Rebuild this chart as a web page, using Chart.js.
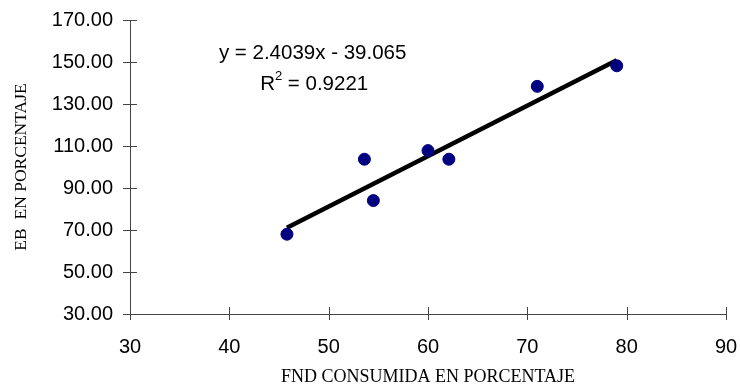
<!DOCTYPE html>
<html>
<head>
<meta charset="utf-8">
<script src="https://cdn.jsdelivr.net/npm/chart.js@4"></script>
<style>
  html, body { margin: 0; padding: 0; background: #fff; }
  #wrap { width: 740px; height: 389px; }
</style>
</head>
<body>
<div id="wrap"><canvas id="chart" width="740" height="389"></canvas></div>
<script>
// FND consumida (x) vs EB (y), both in percent
const fndValues = [45.8, 53.6, 54.5, 60.0, 62.1, 71.0, 79.0];
const ebValues = [68.0, 103.7, 84.0, 107.8, 103.7, 138.4, 148.2];

// trend line shown on the original chart
const slope = 2.4039;
const intercept = -39.065;
const eqText = 'y = 2.4039x - 39.065';
const r2Text = '0.9221';

const xTicks = [30, 40, 50, 60, 70, 80, 90];
const yTicks = [30, 50, 70, 90, 110, 130, 150, 170];

const points = fndValues.map((x, i) => ({ x: x, y: ebValues[i] }));
const xLo = Math.min(...fndValues);
const xHi = Math.max(...fndValues);
const trend = [
    { x: xLo, y: slope * xLo + intercept },
    { x: xHi, y: slope * xHi + intercept }
];

const sans = "'Liberation Sans', Arial, sans-serif";
const serif = "'Liberation Serif', 'Times New Roman', serif";

// tick marks that cross the axis lines + equation label
const extras = {
    id: 'extras',
    afterDraw(c) {
        const ctx = c.ctx;
        const xs = c.scales.x, ys = c.scales.y;
        ctx.save();
        ctx.strokeStyle = '#444';
        ctx.lineWidth = 1;
        const yAxisX = xs.getPixelForValue(30);
        const xAxisY = ys.getPixelForValue(30);
        yTicks.forEach(v => {
            const py = Math.round(ys.getPixelForValue(v)) + 0.5;
            ctx.beginPath();
            ctx.moveTo(yAxisX - 7, py);
            ctx.lineTo(yAxisX + 7, py);
            ctx.stroke();
        });
        xTicks.forEach(v => {
            const px = Math.round(xs.getPixelForValue(v)) + 0.5;
            ctx.beginPath();
            ctx.moveTo(px, xAxisY - 7);
            ctx.lineTo(px, xAxisY + 6);
            ctx.stroke();
        });

        ctx.fillStyle = '#000';
        ctx.font = '20.5px ' + sans;
        ctx.textBaseline = 'middle';
        ctx.textAlign = 'left';
        ctx.fillText(eqText, xs.getPixelForValue(38.95), ys.getPixelForValue(154));
        const rx = xs.getPixelForValue(43.1);
        const ry = ys.getPixelForValue(139.3);
        ctx.fillText('R', rx, ry);
        const rw = ctx.measureText('R').width;
        ctx.font = '13px ' + sans;
        ctx.fillText('2', rx + rw, ry - 8);
        const sw = ctx.measureText('2').width;
        ctx.font = '20.5px ' + sans;
        ctx.fillText(' = ' + r2Text, rx + rw + sw, ry);
        ctx.restore();
    }
};

new Chart(document.getElementById('chart'), {
    type: 'scatter',
    data: {
        datasets: [
            {
                label: 'EB',
                data: points,
                backgroundColor: '#000080',
                borderColor: '#000080',
                pointRadius: 6,
                pointHoverRadius: 6,
                order: 1
            },
            {
                label: 'Tendencia',
                type: 'line',
                data: trend,
                borderColor: '#000',
                borderWidth: 4.5,
                pointRadius: 0,
                fill: false,
                order: 2
            }
        ]
    },
    options: {
        responsive: false,
        animation: false,
        layout: { padding: { top: 20, right: 14, left: 0, bottom: 0 } },
        plugins: {
            legend: { display: false },
            tooltip: { enabled: false }
        },
        scales: {
            x: {
                type: 'linear',
                min: 30,
                max: 90,
                afterBuildTicks: s => { s.ticks = xTicks.map(v => ({ value: v })); },
                afterFit: s => {
                    s.height = 75;
                    s.paddingLeft = 0;
                    s.paddingRight = 0;
                },
                grid: { display: false, drawTicks: false },
                border: { display: true, color: '#444', width: 1 },
                ticks: {
                    color: '#000',
                    font: { family: sans, size: 20 },
                    padding: 21,
                    maxRotation: 0
                },
                title: {
                    display: true,
                    text: 'FND CONSUMIDA EN PORCENTAJE',
                    color: '#000',
                    font: { family: serif, size: 18 },
                    padding: { top: 0, bottom: 1 }
                }
            },
            y: {
                type: 'linear',
                min: 30,
                max: 170,
                afterBuildTicks: s => { s.ticks = yTicks.map(v => ({ value: v })); },
                afterFit: s => {
                    s.width = 130;
                    s.paddingTop = 0;
                    s.paddingBottom = 0;
                },
                grid: { display: false, drawTicks: false },
                border: { display: true, color: '#444', width: 1 },
                ticks: {
                    color: '#000',
                    font: { family: sans, size: 20 },
                    padding: 17,
                    callback: v => v.toFixed(2)
                },
                title: {
                    display: true,
                    text: 'EB  EN PORCENTAJE',
                    color: '#000',
                    font: { family: serif, size: 17.5 },
                    padding: { top: 11, bottom: 0 }
                }
            }
        }
    },
    plugins: [extras]
});
</script>
</body>
</html>
